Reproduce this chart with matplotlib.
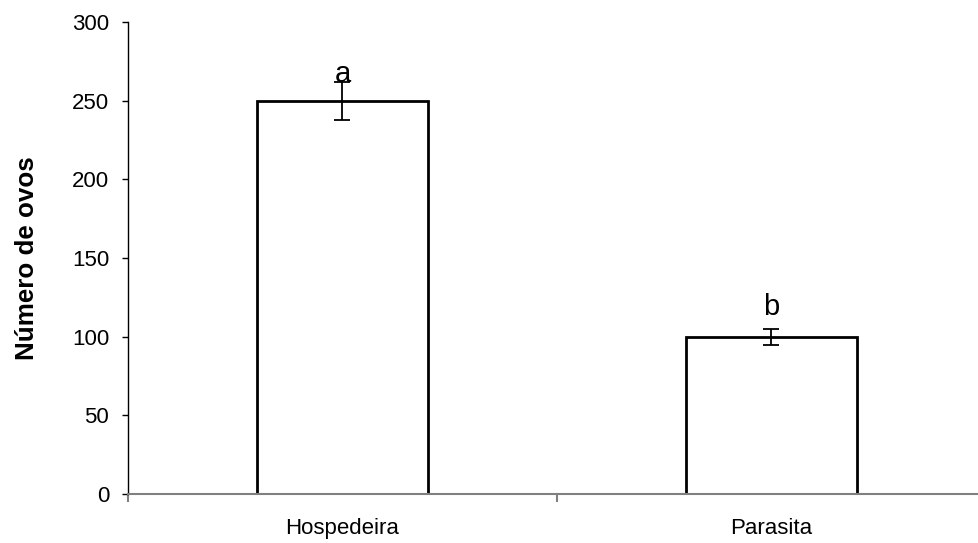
import matplotlib.pyplot as plt

categorias = ['Hospedeira', 'Parasita']
ovos = [250, 100]
erro = [12, 5]
letras = ['a', 'b']

plt.rcParams['font.family'] = ['Liberation Sans', 'DejaVu Sans']

fig = plt.figure(figsize=(9.79, 5.43), dpi=100)
# eixo x passa um pouco da borda direita, como no original
ax = fig.add_axes([0.1307, 0.0902, 0.8764, 0.8693])

x = range(len(categorias))
ax.bar(x, ovos, width=0.40, color='white', edgecolor='black', linewidth=2)
ax.errorbar(x, ovos, yerr=erro, fmt='none', ecolor='black', elinewidth=1.3,
            capsize=5.8, capthick=1.3)

# letras de significância (a sobre a barra de erro, b um pouco acima)
ajuste = [0, 9]
for i, (v, e, l) in enumerate(zip(ovos, erro, letras)):
    ax.text(i, v + e + ajuste[i], l, ha='center', va='baseline', fontsize=21)

ax.set_xlim(-0.5, 1.5)
ax.set_ylim(0, 300)
ax.set_yticks(range(0, 301, 50))
ax.set_xticks([0, 1])
ax.set_xticklabels(categorias, fontsize=16)
ax.tick_params(axis='x', length=0, pad=17)
ax.set_xticks([-0.5, 0.5, 1.5], minor=True)
ax.tick_params(axis='x', which='minor', length=6, color='#808080', width=1.5)
ax.tick_params(axis='y', labelsize=16, length=4.5, width=1, color='black', pad=9)

ax.spines['top'].set_visible(False)
ax.spines['right'].set_visible(False)
ax.spines['bottom'].set_color('#808080')
ax.spines['bottom'].set_linewidth(1.5)
ax.spines['left'].set_linewidth(1)

ax.set_ylabel('Número de ovos', fontsize=18.7, fontweight='bold', labelpad=24)

fig.savefig('out.png', dpi=100)
